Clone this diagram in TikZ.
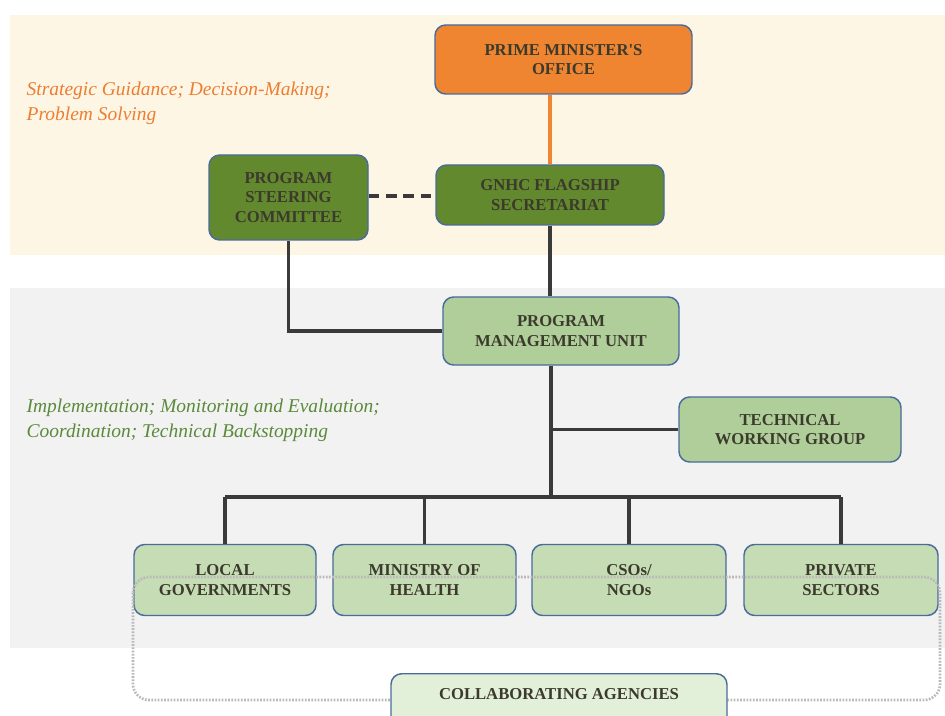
\documentclass[tikz,border=0pt]{standalone}
\usepackage{fontspec}
\setmainfont{Liberation Serif}
\usepackage{xcolor}
\usetikzlibrary{calc}

\definecolor{creamband}{HTML}{FEF6E4}
\definecolor{grayband}{HTML}{F2F2F2}
\definecolor{pmoorange}{HTML}{EF8530}
\definecolor{darkgreen}{HTML}{63892F}
\definecolor{midgreen}{HTML}{AFCE9A}
\definecolor{palegreen}{HTML}{C5DCB4}
\definecolor{faintgreen}{HTML}{E2EFD9}
\definecolor{boxedge}{HTML}{4A6B9B}
\definecolor{boxtext}{HTML}{3B3A2C}
\definecolor{linkgray}{HTML}{3A3A3A}
\definecolor{notesorange}{HTML}{ED7D31}
\definecolor{notesgreen}{HTML}{5A8A3A}

\tikzset{
  unitbox/.style={draw=boxedge, line width=1.1pt, rounded corners=8pt, align=center,
    text=boxtext, inner sep=2pt, font=\bfseries\fontsize{12.5}{14.5}\selectfont},
  link/.style={draw=linkgray, line width=2.6pt},
  notes/.style={anchor=west, align=left, font=\itshape\fontsize{14.6}{18.5}\selectfont}
}

\begin{document}
\begin{tikzpicture}[x=0.75pt,y=-0.75pt]
\useasboundingbox (0,0) rectangle (945,716);

% Background bands
\fill[creamband] (10,15) rectangle (945,255);
\fill[grayband] (10,288) rectangle (945,648);

\node[notes, text=notesorange] (strategic) at (22,103) {Strategic Guidance; Decision-Making;\\Problem Solving};
\node[notes, text=notesgreen] (implement) at (22,420) {Implementation; Monitoring and Evaluation;\\Coordination; Technical Backstopping};

% Upper level
\node[unitbox, fill=pmoorange, minimum width=192.75pt, minimum height=51.75pt] (pmo) at (563.5,59.5) {PRIME MINISTER\textquotesingle S\\OFFICE};
\node[unitbox, fill=darkgreen, minimum width=119.25pt, minimum height=63.75pt] (psc) at (288.5,197.5) {PROGRAM\\STEERING\\COMMITTEE};
\node[unitbox, fill=darkgreen, minimum width=171pt, minimum height=45pt] (gnhc) at (550,195) {GNHC FLAGSHIP\\SECRETARIAT};

% Implementation level
\node[unitbox, fill=midgreen, minimum width=177pt, minimum height=51pt] (pmu) at (561,331) {PROGRAM\\MANAGEMENT UNIT};
\node[unitbox, fill=midgreen, minimum width=166.5pt, minimum height=48.75pt] (twg) at (790,429.5) {TECHNICAL\\WORKING GROUP};

\node[unitbox, fill=palegreen, minimum width=136.5pt, minimum height=53.25pt] (lg) at (225,580) {LOCAL\\GOVERNMENTS};
\node[unitbox, fill=palegreen, minimum width=137.25pt, minimum height=53.25pt] (moh) at (424.5,580) {MINISTRY OF\\HEALTH};
\node[unitbox, fill=palegreen, minimum width=145.5pt, minimum height=53.25pt] (cso) at (629,580) {CSOs/\\NGOs};
\node[unitbox, fill=palegreen, minimum width=145.5pt, minimum height=53.25pt] (ps) at (841,580) {PRIVATE\\SECTORS};

\coordinate (hub) at (551,497);

% Connectors
\draw[draw=pmoorange, line width=2.4pt] (gnhc.north) -- (gnhc.north |- pmo.south);
\draw[link, dash pattern=on 8pt off 5pt] (psc.east |- 0,196) -- (gnhc.west |- 0,196);
\draw[link] (gnhc.south) -- (gnhc.south |- pmu.north);
\draw[link] (psc.south) -- (psc.south |- pmu.west) -- (pmu.west);
\draw[link] (pmu.south -| hub) -- (hub);
\draw[link] (twg.west) -- (twg.west -| hub);
\draw[link] (hub -| lg.north) -- (hub -| ps.north);
\foreach \unit in {lg,moh,cso,ps}
  \draw[link] (\unit.north) -- (\unit.north |- hub);

% Collaborating agencies
\draw[draw=gray!55, line width=2pt, dash pattern=on 1.3pt off 1.1pt, rounded corners=12pt] (133,577) rectangle (940,700);
\node[unitbox, fill=faintgreen, minimum width=252pt, anchor=north, text height=17pt, text depth=30pt] (collab) at (559,673) {COLLABORATING AGENCIES};

\end{tikzpicture}
\end{document}
